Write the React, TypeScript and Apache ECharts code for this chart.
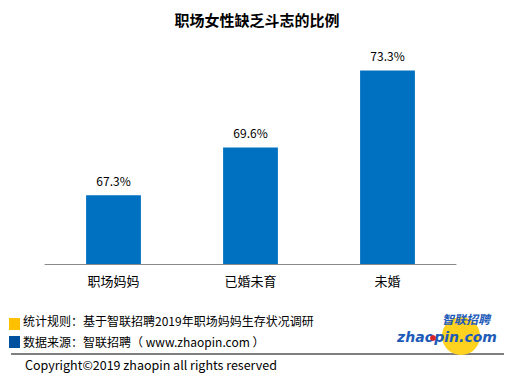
import React, { useEffect, useRef } from "react";
import * as echarts from "echarts";

const categories = ["职场妈妈", "已婚未育", "未婚"];
const values = [67.3, 69.6, 73.3];
const titleText = "职场女性缺乏斗志的比例";
const note1 = "统计规则：基于智联招聘2019年职场妈妈生存状况调研";
const note2 = "数据来源：智联招聘（ www.zhaopin.com ）";
const copyright = "Copyright©2019 zhaopin all rights reserved";

const FONT = "'Noto Sans CJK SC', 'Noto Sans', sans-serif";

export default function App() {
  const ref = useRef<HTMLDivElement>(null);
  useEffect(() => {
    if (!ref.current) return;
    const chart = echarts.init(ref.current, undefined, { renderer: "svg" });
    chart.setOption({
      animation: false,
      backgroundColor: "#ffffff",
      title: {
        text: titleText,
        left: "center",
        top: 7,
        textStyle: { fontSize: 15, fontWeight: "bold", color: "#000", fontFamily: FONT },
      },
      grid: { left: 45, right: 58, top: 56, bottom: 120, containLabel: false },
      xAxis: {
        type: "category",
        data: categories,
        axisLine: { lineStyle: { color: "#898989", width: 1 } },
        axisTick: { show: false },
        axisLabel: { fontSize: 13, color: "#000", margin: 10, fontFamily: FONT },
      },
      yAxis: {
        type: "value",
        min: 64,
        max: 74,
        show: false,
        splitLine: { show: false },
      },
      series: [
        {
          type: "bar",
          data: values,
          barWidth: "40%",
          itemStyle: { color: "#0070C0" },
          label: {
            show: true,
            position: "top",
            distance: 9,
            formatter: (p: any) => p.value.toFixed(1) + "%",
            fontSize: 12,
            color: "#000",
            fontFamily: FONT,
          },
        },
      ],
      graphic: [
        { type: "rect", shape: { x: 9, y: 318, width: 11, height: 12 }, style: { fill: "#FFC000" } },
        { type: "rect", shape: { x: 9, y: 336, width: 11, height: 12 }, style: { fill: "#0050A0" } },
        {
          type: "text",
          x: 23,
          y: 320,
          style: { text: note1, fontSize: 12, fill: "#000", fontFamily: FONT, textVerticalAlign: "middle" },
        },
        {
          type: "text",
          x: 23,
          y: 341,
          style: { text: note2, fontSize: 12, fill: "#000", fontFamily: FONT, textVerticalAlign: "middle" },
        },
        { type: "line", shape: { x1: 11, y1: 354, x2: 504, y2: 354 }, style: { stroke: "#000", lineWidth: 1 } },
        {
          type: "text",
          x: 25,
          y: 364,
          style: { text: copyright, fontSize: 12.5, fill: "#000", fontFamily: FONT, textVerticalAlign: "middle" },
        },
        { type: "circle", shape: { cx: 461, cy: 336, r: 19 }, style: { fill: "#FFD21F" } },
        {
          type: "text",
          x: 466,
          y: 318,
          style: {
            text: "智联招聘",
            fontSize: 12,
            fontWeight: "bold",
            fontStyle: "italic",
            fill: "#1E5BB8",
            fontFamily: FONT,
            textAlign: "center",
            textVerticalAlign: "middle",
          },
        },
        {
          type: "text",
          x: 447,
          y: 337,
          style: {
            text: "zhaopin.com",
            fontSize: 14,
            fontWeight: "bold",
            fontStyle: "italic",
            fill: "#1E5BB8",
            fontFamily: "'DejaVu Sans', sans-serif",
            textAlign: "center",
            textVerticalAlign: "middle",
          },
        },
        { type: "circle", shape: { cx: 433, cy: 338, r: 3 }, style: { fill: "#D8262E" } },
      ],
    });
    return () => chart.dispose();
  }, []);
  return <div ref={ref} style={{ width: 514, height: 384, position: "absolute", left: 0, top: 0 }} />;
}
